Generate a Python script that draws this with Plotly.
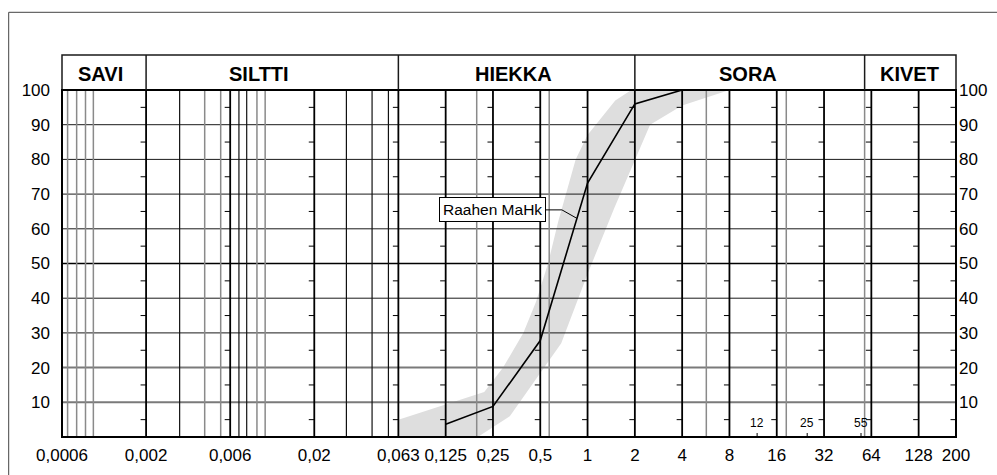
import numpy as np
import plotly.graph_objects as go

# Grain-size axis: labelled sieve sizes (mm)
tick_mm = [0.0006, 0.002, 0.006, 0.02, 0.063, 0.125, 0.25, 0.5, 1, 2, 4, 8, 16, 32, 64, 128, 200]
tick_text = ["0,0006", "0,002", "0,006", "0,02", "0,063", "0,125", "0,25", "0,5",
             "1", "2", "4", "8", "16", "32", "64", "128", "200"]
pct_ticks = [10, 20, 30, 40, 50, 60, 70, 80, 90, 100]

# Measured grading curve
sample_name = "Raahen MaHk"
sample_mm = [0.125, 0.25, 0.5, 1, 2, 4, 8]
sample_pass = [3.7, 8.8, 27.8, 73.2, 96, 100, 100]

# Grading envelope (fine limit, then coarse limit)
fine_mm = [0.063, 0.063, 0.22, 0.29, 0.39, 0.47, 0.56, 0.65, 0.84, 1.0, 1.5, 1.9]
fine_pass = [0, 5, 13, 20, 30, 39, 50, 62, 80, 87, 97, 100]
coarse_mm = [8, 4, 2.5, 1.48, 1.0, 0.68, 0.32, 0.2]
coarse_pass = [100, 95.5, 90, 66, 47, 27, 6, 0]

# Soil classes shown in the header band
class_names = ["SAVI", "SILTTI", "HIEKKA", "SORA", "KIVET"]
class_bounds = [0.0006, 0.002, 0.063, 2, 58, 200]

# Secondary vertical grid lines (mm)
minor_dark_mm = [0.0031, 0.0068, 0.0076, 0.031, 0.044, 0.055]
minor_gray_mm = [0.00065, 0.00074, 0.00084, 0.00094, 0.0043, 0.0053, 0.0088, 0.0099,
                 0.197, 0.57, 5.7, 18.4, 58]
# Small marked sizes on the bottom edge (mm)
marker_mm = [12, 25, 55]

# ---- axis layout: piecewise logarithmic between labelled sizes ----
W, H = 997, 475
ML, MR, MT, MB = 62, 41, 90, 38
PW, PH = W - ML - MR, H - MT - MB
seg_w = [1.778] * 4 + [1.0] * 11 + [0.79]
tick_pos = np.concatenate([[0.0], np.cumsum(seg_w)])
TOTAL = float(tick_pos[-1])
UX = PW / TOTAL          # px per x unit
UY = PH / 100.0          # px per percent


def xpos(mm):
    return np.interp(np.log(np.asarray(mm, dtype=float)), np.log(tick_mm), tick_pos)


def px_x(n):
    return n / UX


def px_y(n):
    return n / UY


def vsegs(mm_list, y0=0, y1=100):
    xs, ys = [], []
    for m in mm_list:
        p = float(xpos(m))
        xs += [p, p, None]
        ys += [y0, y1, None]
    return xs, ys


def hsegs(vals):
    xs, ys = [], []
    for v in vals:
        xs += [0, TOTAL, None]
        ys += [v, v, None]
    return xs, ys


def line_trace(xs, ys, color, width):
    return go.Scatter(x=xs, y=ys, mode="lines", line=dict(color=color, width=width),
                      hoverinfo="skip", showlegend=False)


fig = go.Figure()

# envelope band
band_x = list(xpos(fine_mm)) + list(xpos(coarse_mm))
band_y = fine_pass + coarse_pass
fig.add_trace(go.Scatter(x=band_x, y=band_y, mode="lines", fill="toself",
                         fillcolor="#dedede", line=dict(width=0, color="#dedede"),
                         hoverinfo="skip", showlegend=False))

# horizontal grid
fig.add_trace(line_trace(*hsegs([30, 40, 60, 70, 80, 90]), "#1a1a1a", 1))
fig.add_trace(line_trace(*hsegs([10, 20]), "#7a7a7a", 2))
fig.add_trace(line_trace(*hsegs([50]), "#000000", 1.6))

# vertical grid
fig.add_trace(line_trace(*vsegs(minor_gray_mm), "#8a8a8a", 1.5))
fig.add_trace(line_trace(*vsegs(minor_dark_mm), "#111111", 1.2))
fig.add_trace(line_trace(*vsegs(tick_mm[1:-1]), "#000000", 1.8))

# short ticks at the half-decades of percent, left of each labelled line
tx, ty = [], []
for m in tick_mm[1:]:
    p = float(xpos(m))
    for v in range(5, 100, 10):
        tx += [p - px_x(5.5), p, None]
        ty += [v, v, None]
fig.add_trace(line_trace(tx, ty, "#000000", 1))

# small size marks on the bottom edge
mx, my = [], []
for m in marker_mm:
    p = float(xpos(m))
    mx += [p, p, None]
    my += [0, px_y(4), None]
fig.add_trace(line_trace(mx, my, "#000000", 1))

# grading curve
fig.add_trace(go.Scatter(x=xpos(sample_mm), y=sample_pass, mode="lines",
                         line=dict(color="#000000", width=1.6),
                         hoverinfo="skip", showlegend=False))

# leader line from the curve to its label
lead_y = 63.0
seg = np.searchsorted(sample_pass, lead_y)
xa, xb = float(xpos(sample_mm[seg - 1])), float(xpos(sample_mm[seg]))
ya, yb = sample_pass[seg - 1], sample_pass[seg]
anchor_x = xa + (lead_y - ya) / (yb - ya) * (xb - xa)
elbow_x = anchor_x - px_x(15)
elbow_y = lead_y + px_y(8.5)
box_x = elbow_x - px_x(16)
fig.add_trace(line_trace([box_x, elbow_x, anchor_x], [elbow_y, elbow_y, lead_y], "#000000", 1))

# right-hand percent axis carrier
fig.add_trace(go.Scatter(x=[0], y=[0], yaxis="y2", mode="markers",
                         marker=dict(opacity=0), hoverinfo="skip", showlegend=False))

annotations = [dict(x=box_x, y=elbow_y, xref="x", yref="y", text=sample_name,
                    showarrow=False, xanchor="right", yanchor="middle",
                    font=dict(size=15.5, color="#000"), bgcolor="#ffffff",
                    bordercolor="#000000", borderwidth=1, borderpad=3)]
for m in marker_mm:
    annotations.append(dict(x=float(xpos(m)), y=0, xref="x", yref="y", text=str(m),
                            showarrow=False, yanchor="middle", yshift=14, xshift=0,
                            font=dict(size=12, color="#000")))

# header band with soil classes
hdr_top = 1 + 35 / PH
shapes = [
    dict(type="rect", xref="paper", yref="paper", x0=0, x1=1, y0=1, y1=hdr_top,
         line=dict(color="#1a1a1a", width=1.5), layer="above"),
    dict(type="rect", xref="paper", yref="paper", x0=0, x1=1, y0=0, y1=1,
         line=dict(color="#000000", width=2), layer="above"),
]
for b in class_bounds[1:-1]:
    xp = float(xpos(b)) / TOTAL
    shapes.append(dict(type="line", xref="paper", yref="paper", x0=xp, x1=xp,
                       y0=1, y1=hdr_top, line=dict(color="#1a1a1a", width=1.5), layer="above"))
label_shift = [-4, -13, -3, -2, -1]
for i, name in enumerate(class_names):
    xc = (float(xpos(class_bounds[i])) + float(xpos(class_bounds[i + 1]))) / 2
    annotations.append(dict(x=xc, y=1 + 16.2 / PH, xref="x", yref="paper", text="<b>%s</b>" % name,
                            showarrow=False, xshift=label_shift[i], yanchor="middle",
                            font=dict(size=20, color="#000")))

# outer chart frame (top and left edges)
frame_top = 1 + (MT - 12.3) / PH
frame_left = -(ML - 8.7) / PW
shapes.append(dict(type="line", xref="paper", yref="paper", x0=frame_left, x1=1 + MR / PW + 0.01,
                   y0=frame_top, y1=frame_top, line=dict(color="#444", width=1)))
shapes.append(dict(type="line", xref="paper", yref="paper", x0=frame_left, x1=frame_left,
                   y0=frame_top, y1=-MB / PH - 0.01, line=dict(color="#444", width=1)))

pct_text = [str(v) for v in pct_ticks]
fig.update_layout(
    width=W, height=H, autosize=False,
    margin=dict(l=ML, r=MR, t=MT, b=MB, pad=0, autoexpand=False),
    paper_bgcolor="white", plot_bgcolor="white", showlegend=False,
    font=dict(family="Liberation Sans, Arial, sans-serif", color="#000"),
    xaxis=dict(range=[0, TOTAL], tickvals=list(tick_pos), ticktext=tick_text,
               showgrid=False, zeroline=False, showline=False, ticks="",
               tickfont=dict(size=17), ticklabelstandoff=6, fixedrange=True,
               automargin=False),
    yaxis=dict(range=[0, 100], tickvals=pct_ticks, ticktext=pct_text,
               showgrid=False, zeroline=False, showline=False, ticks="",
               tickfont=dict(size=17), ticklabelstandoff=11, fixedrange=True,
               automargin=False),
    yaxis2=dict(range=[0, 100], overlaying="y", side="right", tickvals=pct_ticks,
                ticktext=pct_text, showgrid=False, zeroline=False, showline=False,
                ticks="", tickfont=dict(size=17), ticklabelstandoff=2, fixedrange=True,
                automargin=False),
    shapes=shapes,
    annotations=annotations,
)

fig.write_html("out.html")
